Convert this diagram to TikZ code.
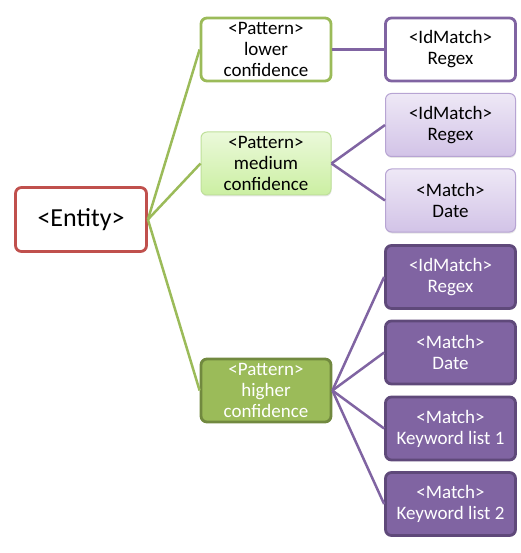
\documentclass[tikz,border=0pt]{standalone}
\usepackage{fontspec}
\setmainfont{Carlito}
\usepackage{tikz}
\usetikzlibrary{shadows}
\usepackage{xcolor}
\definecolor{olive}{HTML}{9BBB59}
\definecolor{darkolive}{HTML}{71893F}
\definecolor{entityred}{HTML}{C0504D}
\definecolor{plum}{HTML}{8064A2}
\definecolor{darkplum}{HTML}{5F497A}
\definecolor{lavtop}{HTML}{EEE8F6}
\definecolor{lavbot}{HTML}{D2C3E7}
\definecolor{lavline}{HTML}{B7A4D3}
\definecolor{limetop}{HTML}{EBF9DA}
\definecolor{limebot}{HTML}{CBEFA2}
\definecolor{limeline}{HTML}{BFE09A}

\begin{document}
\begin{tikzpicture}[x=1pt, y=-1pt]
    \tikzset{
        box/.style={rounded corners=6pt, align=center, inner sep=0pt, minimum width=130pt, minimum height=63pt, font=\fontsize{19}{21}\selectfont},
        entitybox/.style={box, draw=entityred, line width=2.8pt, fill=white, minimum width=131pt, minimum height=64pt, font=\fontsize{26}{30}\selectfont},
        lowpattern/.style={box, draw=olive, line width=2.8pt, fill=white},
        medpattern/.style={box, draw=limeline, line width=1pt, top color=limetop, bottom color=limebot, drop shadow={opacity=0.2, shadow xshift=0.5pt, shadow yshift=-1.5pt}},
        highpattern/.style={box, draw=darkolive, line width=2.8pt, fill=olive, text=white},
        lowmatch/.style={box, draw=plum, line width=2.8pt, fill=white},
        medmatch/.style={box, draw=lavline, line width=1pt, top color=lavtop, bottom color=lavbot, drop shadow={opacity=0.2, shadow xshift=0.5pt, shadow yshift=-1.5pt}},
        highmatch/.style={box, draw=darkplum, line width=2.8pt, fill=plum, text=white},
        greenlink/.style={draw=olive, line width=2.5pt},
        purplelink/.style={draw=plum, line width=2.5pt}
    }

    \useasboundingbox (0,0) rectangle (520,553);

    % root
    \node[entitybox] (entity) at (81,219.5) {<Entity>};

    % patterns
    \node[lowpattern] (lowpat) at (266,49.5) {<Pattern>\\lower\\confidence};
    \node[medpattern] (medpat) at (266,163.5) {<Pattern>\\medium\\confidence};
    \node[highpattern] (highpat) at (266,390.5) {<Pattern>\\higher\\confidence};

    % matches
    \node[lowmatch] (lowregex) at (450.5,49.5) {<IdMatch>\\Regex};
    \node[medmatch] (medregex) at (450.5,125) {<IdMatch>\\Regex};
    \node[medmatch] (meddate) at (450.5,200.5) {<Match>\\Date};
    \node[highmatch] (highregex) at (450.5,277) {<IdMatch>\\Regex};
    \node[highmatch] (highdate) at (450.5,352.5) {<Match>\\Date};
    \node[highmatch] (highkwa) at (450.5,428.5) {<Match>\\Keyword list 1};
    \node[highmatch] (highkwb) at (450.5,504) {<Match>\\Keyword list 2};

    % links
    \draw[greenlink] (entity.east) -- (lowpat.west);
    \draw[greenlink] (entity.east) -- (medpat.west);
    \draw[greenlink] (entity.east) -- (highpat.west);
    \draw[purplelink] (lowpat.east) -- (lowregex.west);
    \draw[purplelink] (medpat.east) -- (medregex.west);
    \draw[purplelink] (medpat.east) -- (meddate.west);
    \foreach \m in {highregex, highdate, highkwa, highkwb} {
        \draw[purplelink] (highpat.east) -- (\m.west);
    }
\end{tikzpicture}
\end{document}
